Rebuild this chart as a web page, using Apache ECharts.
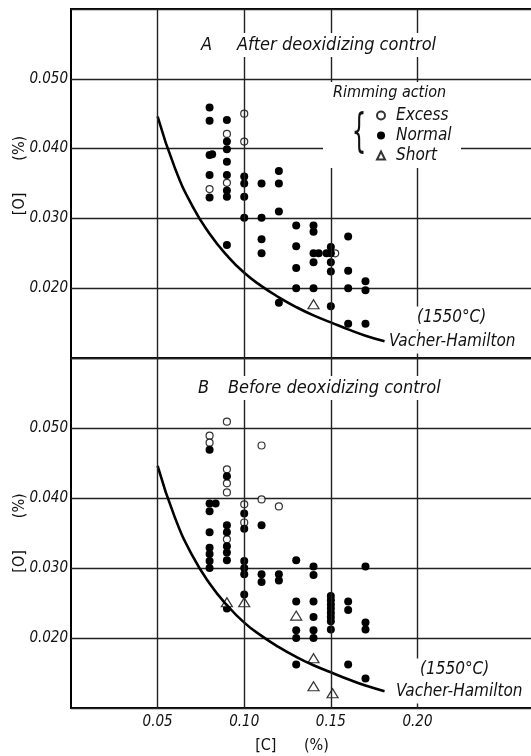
<!DOCTYPE html>
<html>
<head>
<meta charset="utf-8">
<script src="https://cdn.jsdelivr.net/npm/echarts@6/dist/echarts.min.js"></script>
<style>
  html, body { margin: 0; padding: 0; background: #fff; }
  #main { width: 531px; height: 756px; }
</style>
</head>
<body>
<div id="main"></div>
<script>
// values, [C] % vs [O] %
var xGrid = [0.05, 0.10, 0.15, 0.20];

// Vacher-Hamilton line (1550 C)
var curveC = [0.05, 0.06, 0.07, 0.08, 0.09, 0.10, 0.11, 0.12, 0.13, 0.14, 0.15, 0.16, 0.17, 0.181];
var curveO = [0.0446, 0.0372, 0.0318, 0.0278, 0.0247, 0.0222, 0.0203, 0.0187, 0.0173, 0.0161, 0.0151, 0.0141, 0.0132, 0.0124];

// A: after deoxidizing control
var aExcess = [[0.08, 0.0342], [0.09, 0.0421], [0.09, 0.0351], [0.10, 0.0450], [0.10, 0.0410], [0.1525, 0.0250]];
var aNormal = [
  [0.08, 0.0459], [0.08, 0.0440], [0.08, 0.0391], [0.0815, 0.0392], [0.08, 0.0362], [0.08, 0.0330],
  [0.09, 0.0441], [0.09, 0.0410], [0.09, 0.0399], [0.09, 0.0381], [0.09, 0.0362], [0.09, 0.0340], [0.09, 0.0331], [0.09, 0.0262],
  [0.10, 0.0360], [0.10, 0.0350], [0.10, 0.0331], [0.10, 0.0301],
  [0.11, 0.0350], [0.11, 0.0301], [0.11, 0.0270], [0.11, 0.0250],
  [0.12, 0.0368], [0.12, 0.0350], [0.12, 0.0310], [0.12, 0.0179],
  [0.13, 0.0290], [0.13, 0.0260], [0.13, 0.0229], [0.13, 0.0200],
  [0.14, 0.0290], [0.14, 0.0281], [0.14, 0.0250], [0.143, 0.0250], [0.14, 0.0237], [0.14, 0.0200],
  [0.15, 0.0259], [0.1475, 0.0250], [0.15, 0.0250], [0.15, 0.0237], [0.15, 0.0224], [0.15, 0.0174],
  [0.16, 0.0274], [0.16, 0.0225], [0.16, 0.0200], [0.16, 0.0149],
  [0.17, 0.0210], [0.17, 0.0197], [0.17, 0.0149]
];
var aShort = [[0.14, 0.0177]];

// B: before deoxidizing control
var bExcess = [
  [0.08, 0.0489], [0.08, 0.0479], [0.09, 0.0509], [0.09, 0.0441], [0.09, 0.0421], [0.09, 0.0408], [0.09, 0.0341],
  [0.10, 0.0391], [0.10, 0.0365], [0.11, 0.0475], [0.11, 0.0398], [0.12, 0.0388]
];
var bNormal = [
  [0.08, 0.0469], [0.08, 0.0392], [0.0835, 0.0392], [0.08, 0.0381], [0.08, 0.0351], [0.08, 0.0329], [0.08, 0.0320], [0.08, 0.0310], [0.08, 0.0300],
  [0.09, 0.0431], [0.09, 0.0361], [0.09, 0.0351], [0.09, 0.0331], [0.09, 0.0322], [0.09, 0.0311], [0.09, 0.0242],
  [0.10, 0.0378], [0.10, 0.0356], [0.10, 0.0310], [0.10, 0.0300], [0.10, 0.0291], [0.10, 0.0262],
  [0.11, 0.0361], [0.11, 0.0291], [0.11, 0.0280],
  [0.12, 0.0291], [0.12, 0.0282],
  [0.13, 0.0311], [0.13, 0.0252], [0.13, 0.0211], [0.13, 0.0200], [0.13, 0.0162],
  [0.14, 0.0302], [0.14, 0.0290], [0.14, 0.0252], [0.14, 0.0230], [0.14, 0.0211], [0.14, 0.0200],
  [0.15, 0.0260], [0.15, 0.0254], [0.15, 0.0248], [0.15, 0.0242], [0.15, 0.0236], [0.15, 0.0230], [0.15, 0.0224], [0.15, 0.0212],
  [0.16, 0.0252], [0.16, 0.0240], [0.16, 0.0162],
  [0.17, 0.0302], [0.17, 0.0222], [0.17, 0.0212], [0.17, 0.0142]
];
var bShort = [[0.09, 0.0251], [0.10, 0.0251], [0.13, 0.0232], [0.14, 0.0171], [0.14, 0.0131], [0.151, 0.0121]];

var FONT = "'DejaVu Sans Condensed', 'DejaVu Sans', sans-serif";

var chartDom = document.getElementById('main');
var myChart = echarts.init(chartDom, null, { renderer: 'canvas' });
var option;

function yAxis(idx) {
  return {
    type: 'value', gridIndex: idx, min: 0.01, max: 0.06, interval: 0.01,
    name: '[O]       (%)', nameLocation: 'middle', nameGap: 43, nameRotate: 90, nameMoveOverlap: false,
    nameTextStyle: { fontFamily: FONT, fontSize: 16, color: '#111', padding: idx === 0 ? [0, 0, 0, 16] : 0 },
    axisLine: { show: false }, axisTick: { show: false },
    splitLine: { lineStyle: { color: '#222', width: 1.4 } },
    axisLabel: {
      margin: 3, fontFamily: FONT, fontSize: 15, fontStyle: 'italic', color: '#111',
      formatter: function (v) { return (v < 0.015 || v > 0.055) ? '' : v.toFixed(3); }
    }
  };
}

function xAxis(idx, labels) {
  return {
    type: 'value', gridIndex: idx, min: 0, max: 0.2667, interval: 0.05,
    name: labels ? '[C]      (%)' : '', nameLocation: 'middle', nameGap: 30, nameMoveOverlap: false,
    nameTextStyle: { fontFamily: FONT, fontSize: 16, color: '#111', padding: [0, 20, 0, 0] },
    axisLine: { show: false }, axisTick: { show: false }, splitLine: { show: false },
    axisLabel: {
      show: labels, margin: 7, fontFamily: FONT, fontSize: 15, fontStyle: 'italic', color: '#111',
      formatter: function (v) { return (v < 0.01 || v > 0.22) ? '' : v.toFixed(2); }
    }
  };
}

function panel(idx, excess, normal, shortData) {
  return [
    {
      name: 'Vacher-Hamilton', type: 'line', xAxisIndex: idx, yAxisIndex: idx,
      data: curveC.map(function (c, i) { return [c, curveO[i]]; }),
      smooth: true, showSymbol: false, silent: true,
      lineStyle: { color: '#000', width: 2.6 },
      markLine: {
        silent: true, symbol: ['none', 'none'], label: { show: false },
        lineStyle: { color: '#222', width: 1.4, type: 'solid' },
        data: xGrid.map(function (v) { return { xAxis: v }; })
      }
    },
    {
      name: 'Excess', type: 'scatter', xAxisIndex: idx, yAxisIndex: idx, data: excess,
      symbol: 'circle', symbolSize: 7,
      itemStyle: { color: '#fff', borderColor: '#000', borderWidth: 1.2 }
    },
    {
      name: 'Normal', type: 'scatter', xAxisIndex: idx, yAxisIndex: idx, data: normal,
      symbol: 'circle', symbolSize: 8,
      itemStyle: { color: '#000', opacity: 1 }
    },
    {
      name: 'Short', type: 'scatter', xAxisIndex: idx, yAxisIndex: idx, data: shortData,
      symbol: 'triangle', symbolSize: [11, 9],
      itemStyle: { color: '#fff', borderColor: '#000', borderWidth: 1.2 }
    }
  ];
}

function label(text, x, y, size, bg) {
  return {
    type: 'text', x: x, y: y, z: 100,
    style: {
      text: text, fontFamily: FONT, fontSize: size, fontStyle: 'italic', fill: '#111',
      verticalAlign: 'middle', align: 'left',
      backgroundColor: bg ? '#fff' : 'transparent', padding: bg ? [3, 4] : 0
    }
  };
}

option = {
  backgroundColor: '#fff',
  animation: false,
  grid: [
    { left: 71, right: -2, top: 9, height: 349, outerBoundsMode: 'none', show: true, borderColor: '#000', borderWidth: 2 },
    { left: 71, right: -2, top: 358, height: 350, outerBoundsMode: 'none', show: true, borderColor: '#000', borderWidth: 2 }
  ],
  xAxis: [xAxis(0, false), xAxis(1, true)],
  yAxis: [yAxis(0), yAxis(1)],
  legend: {
    data: ['Excess', 'Normal', 'Short'], orient: 'vertical', left: 371, top: 102,
    itemWidth: 8, itemHeight: 8, itemGap: 3, selectedMode: false, z: 110,
    textStyle: { fontFamily: FONT, fontSize: 17, fontStyle: 'italic', color: '#111', padding: [0, 0, 0, 6] }
  },
  graphic: [
    { type: 'rect', z: 99, shape: { x: 323, y: 82, width: 138, height: 86 }, style: { fill: '#fff' } },
    label('Rimming action', 333, 93, 16, false),
    { type: 'text', x: 359, y: 134, z: 100, scaleX: 0.5,
      style: { text: '{', fontFamily: 'DejaVu Sans', fontSize: 46, fill: '#111', verticalAlign: 'middle', align: 'center' } },
    label('A', 197, 45, 18, true),
    label('After deoxidizing control', 233, 45, 18, true),
    label('(1550°C)', 413, 318, 17, true),
    label('Vacher-Hamilton', 385, 342, 17, true),
    label('B', 194, 388, 18, true),
    label('Before deoxidizing control', 224, 388, 18, true),
    label('(1550°C)', 416, 670, 17, true),
    label('Vacher-Hamilton', 392, 692, 17, true)
  ],
  series: panel(0, aExcess, aNormal, aShort).concat(panel(1, bExcess, bNormal, bShort))
};

option && myChart.setOption(option);
</script>
</body>
</html>
